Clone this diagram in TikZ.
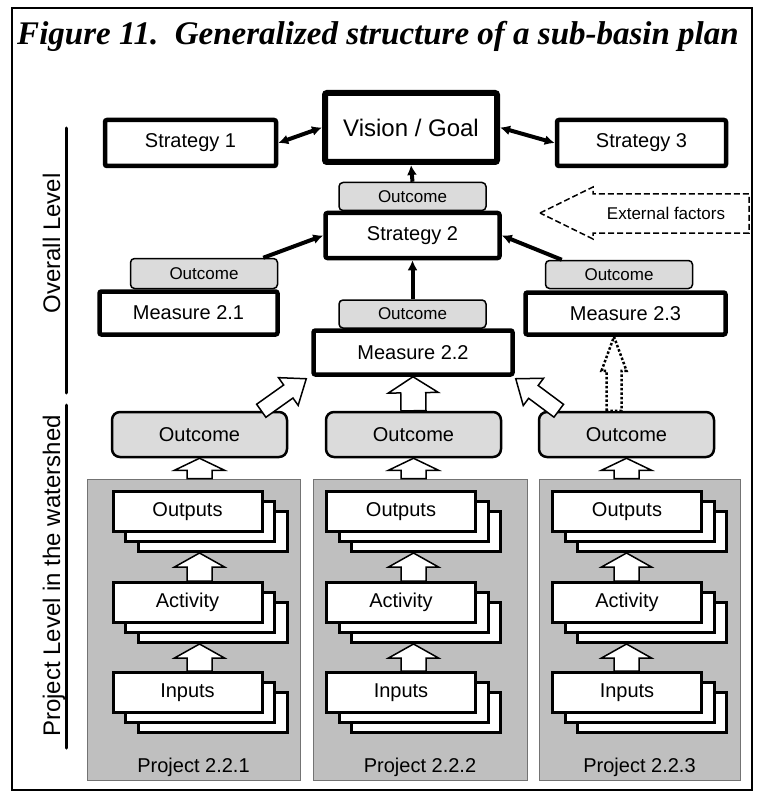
\documentclass[tikz,border=0pt]{standalone}
\usepackage{fontspec}
\setmainfont{Liberation Sans}
\newfontfamily\titlefont{Liberation Serif}
\usetikzlibrary{arrows.meta,calc}
\definecolor{projgray}{gray}{0.75}
\definecolor{outgray}{gray}{0.86}
\newcommand\boxfont{\fontsize{20pt}{24pt}\selectfont}
\newcommand\smallfont{\fontsize{17pt}{20pt}\selectfont}
\newcommand\levelfont{\fontsize{24pt}{28pt}\selectfont}
% hollow block arrow from #2 (base centre) to #3 (tip)
% #4 half shaft width, #5 half head width, #6 head length (pt)
\newcommand\BlockArrow[6][]{%
  \draw[block arrow,#1] let \p1=(#2), \p2=(#3),
    \n1={atan2(\y2-\y1,\x2-\x1)},
    \n2={veclen(\x2-\x1,\y2-\y1)-#6} in
    ($(\p1)+(\n1+90:#4pt)$) -- ++(\n1:\n2*1pt) -- ++(\n1+90:#5pt-#4pt)
    -- (\p2) -- ($(\p1)+(\n1:\n2*1pt)+(\n1-90:#5pt)$)
    -- ++(\n1+90:#5pt-#4pt) -- ($(\p1)+(\n1-90:#4pt)$) -- cycle;
}
% pile of three sheets, front sheet named #1
\newcommand\DrawStack[3]{%
  \node[stackbox] (#1b) at ($(#2)+(25,20)$) {};
  \node[stackbox] (#1a) at ($(#2)+(12.5,10)$) {};
  \node[stackbox] (#1) at (#2) {#3};
}
\tikzset{%
  >={Latex[length=10pt,width=10pt]},
  bigbox/.style={draw,line width=4.5pt,fill=white,rounded corners=2pt,
    inner sep=0pt,font=\boxfont},
  outsmall/.style={draw,line width=1.5pt,fill=outgray,rounded corners=4pt,
    minimum width=147pt,minimum height=28pt,inner sep=0pt,font=\smallfont},
  outbig/.style={draw,line width=2.5pt,fill=outgray,rounded corners=8pt,
    minimum width=175pt,minimum height=45pt,inner sep=0pt,font=\boxfont},
  stackbox/.style={draw,line width=3pt,fill=white,minimum width=149pt,
    minimum height=40pt,inner sep=0pt,font=\boxfont},
  projbox/.style={draw=black!55,line width=1pt,fill=projgray},
  link/.style={line width=4pt,->},
  block arrow/.style={draw,line width=1.5pt,fill=white,line join=miter},
  dotted arrow/.style={line width=2.5pt,dash pattern=on 2.5pt off 2pt},
  ext arrow/.style={draw,line width=1.5pt,dash pattern=on 6pt off 3pt},
  level line/.style={line width=3pt,line cap=round},
  level label/.style={rotate=90,anchor=base,font=\levelfont},
  title/.style={anchor=base,font=\titlefont\bfseries\itshape\fontsize{33pt}{38pt}\selectfont}
}
\begin{document}
\begin{tikzpicture}[x=1pt,y=-1pt]
\useasboundingbox (0,0) rectangle (760,794);
\draw[line width=1.5pt] (12,8) rectangle (752,790);
\node[title] (head) at (378,45) {Figure 11.\enspace Generalized structure of a sub-basin plan};

% overall level
\node[bigbox,line width=6pt,minimum width=172pt,minimum height=69pt,
  font=\levelfont] (vision) at (411,127.5) {Vision / Goal};
\draw[line width=1.2pt] ([shift={(5pt,-5pt)}]vision.north west)
  rectangle ([shift={(-5pt,5pt)}]vision.south east);
\node[bigbox,minimum width=171pt,minimum height=46pt] (str1) at (190.5,143) {Strategy 1};
\node[bigbox,minimum width=169pt,minimum height=46pt] (str3) at (641.5,143) {Strategy 3};
\node[outsmall] (out0) at (412.5,196.5) {Outcome};
\node[bigbox,minimum width=174pt,minimum height=45pt] (str2) at (412.5,235.5) {Strategy 2};
\node[outsmall,minimum height=30pt] (out21) at (204,273.5) {Outcome};
\node[bigbox,minimum width=178pt,minimum height=43pt] (mea21) at (188.5,313) {Measure 2.1};
\node[outsmall] (out23) at (619,274.5) {Outcome};
\node[bigbox,minimum width=200pt,minimum height=42pt] (mea23) at (625.5,313.5) {Measure 2.3};
\node[outsmall] (out22) at (412.5,314) {Outcome};
\node[bigbox,minimum width=199pt,minimum height=44pt] (mea22) at (413,352.5) {Measure 2.2};

\draw[link,<->] (str1.east) -- (vision.west);
\draw[link,<->] (str3.west) -- (vision.east);
\draw[link] (out0.north) -- (vision.south);
\draw[link] ([xshift=-15pt]out21.north east) -- (str2.west);
\draw[link] ([xshift=17pt]out23.north west) -- (str2.east);
\draw[link] (out22.north) -- (str2.south);

\node[font=\smallfont] (ext) at (666,213) {External factors};
\draw[ext arrow] (540,213) -- (593,187) -- (593,194) -- (749,194)
  -- (749,233) -- (593,233) -- (593,239) -- cycle;

% project level
\node[outbig] (o1) at (199.5,434.5) {Outcome};
\node[outbig] (o2) at (413.5,434.5) {Outcome};
\node[outbig] (o3) at (626.5,434.5) {Outcome};

\node[projbox,minimum width=213pt,minimum height=301pt] (p1) at (193.5,629.5) {};
\node[projbox,minimum width=214pt,minimum height=301pt] (p2) at (420,629.5) {};
\node[projbox,minimum width=201pt,minimum height=301pt] (p3) at (639.5,629.5) {};
\node[font=\boxfont,anchor=base] (p1lab) at (193.5,772) {Project 2.2.1};
\node[font=\boxfont,anchor=base] (p2lab) at (420,772) {Project 2.2.2};
\node[font=\boxfont,anchor=base] (p3lab) at (639.5,772) {Project 2.2.3};

\DrawStack{p1out}{187.5,511.5}{Outputs}
\DrawStack{p1act}{187.5,602.5}{Activity}
\DrawStack{p1inp}{187.5,692.5}{Inputs}
\DrawStack{p2out}{401,511.5}{Outputs}
\DrawStack{p2act}{401,602.5}{Activity}
\DrawStack{p2inp}{401,692.5}{Inputs}
\DrawStack{p3out}{627,511.5}{Outputs}
\DrawStack{p3act}{627,602.5}{Activity}
\DrawStack{p3inp}{627,692.5}{Inputs}

\BlockArrow{o1.south |- p1.north}{o1.south}{12.5}{25}{12}
\BlockArrow{o1.south |- p1act.north}{o1.south |- p1outb.south}{12.5}{25}{14}
\BlockArrow{o1.south |- p1inp.north}{o1.south |- p1actb.south}{12.5}{25}{14}
\BlockArrow{o2.south |- p2.north}{o2.south}{12.5}{25}{12}
\BlockArrow{o2.south |- p2act.north}{o2.south |- p2outb.south}{12.5}{25}{14}
\BlockArrow{o2.south |- p2inp.north}{o2.south |- p2actb.south}{12.5}{25}{14}
\BlockArrow{o3.south |- p3.north}{o3.south}{12.5}{25}{12}
\BlockArrow{o3.south |- p3act.north}{o3.south |- p3outb.south}{12.5}{25}{14}
\BlockArrow{o3.south |- p3inp.north}{o3.south |- p3actb.south}{12.5}{25}{14}

\BlockArrow{o2.north}{mea22.south}{12.5}{25}{16}
\BlockArrow{[xshift=-27pt]o1.north east}{[shift={(-5pt,-2pt)}]mea22.south west}{8}{17}{22}
\BlockArrow{[xshift=21pt]o3.north west}{[shift={(1pt,-2pt)}]mea22.south east}{8}{17}{22}
\BlockArrow[dotted arrow]{[xshift=-12.5pt]o3.north}{[xshift=-11.5pt]mea23.south}{7.5}{12.5}{34}

% level markers
\draw[level line] (66,128) -- (66,393);
\draw[level line] (66,405) -- (66,748);
\node[level label] (lvtop) at (60,243.5) {Overall Level};
\node[level label] (lvbot) at (60,576) {Project Level in the watershed};
\end{tikzpicture}
\end{document}
